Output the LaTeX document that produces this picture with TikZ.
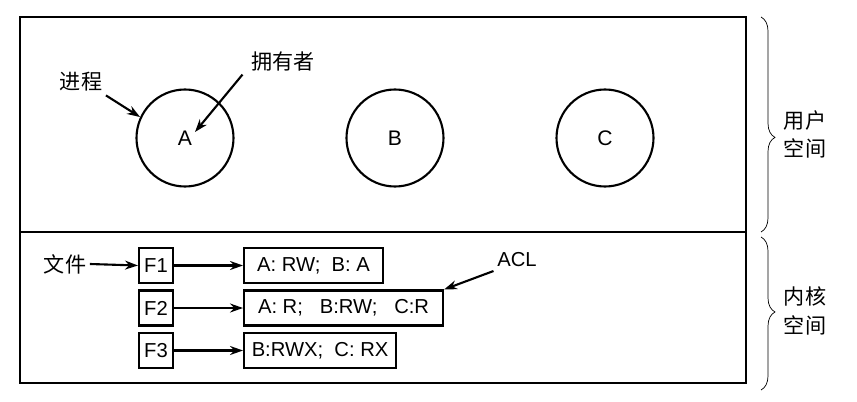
\documentclass[tikz,border=0pt]{standalone}
\usepackage{fontspec}
\setmainfont{Liberation Sans}
\newfontfamily\cjk{Noto Sans CJK SC}
\usetikzlibrary{arrows.meta,decorations.pathreplacing}

\begin{document}
\begin{tikzpicture}[x=0.2mm,y=-0.2mm,
    proc/.style={draw,line width=1.2pt,circle,minimum size=19.4mm,inner sep=0pt,font=\fontsize{12}{14}\selectfont},
    fbox/.style={draw,line width=1.2pt,minimum width=6.8mm,minimum height=7mm,inner sep=0pt,font=\fontsize{11.5}{13}\selectfont},
    aclbox/.style={draw,line width=1.2pt,anchor=west,minimum height=7mm,inner sep=0pt,font=\fontsize{11.5}{13}\selectfont},
    zh/.style={font=\cjk\fontsize{12}{16}\selectfont,inner sep=2pt},
    arr/.style={-{Stealth[length=2.6mm,width=1.8mm]},line width=1.2pt},
    kuohao/.style={decorate,decoration={brace,amplitude=2.8mm,aspect=#1}}]

    \useasboundingbox (0,0) rectangle (857,402);

    % 画外框
    \draw[line width=1.2pt] (20,17) rectangle (746,383);
    \draw[line width=1.2pt] (20,232) -- (746,232);

    % 进程
    \node[proc] (procA) at (185,138) {A};
    \node[proc] (procB) at (395,138) {B};
    \node[proc] (procC) at (605,138) {C};

    \node[zh] (jincheng) at (81,82) {进程};
    \node[zh] (yongyou) at (283,61) {拥有者};
    \coordinate (ownTip) at (195,132);
    \draw[arr] (jincheng.south east) -- (procA.155);
    \draw[arr] ([xshift=-1mm]yongyou.south west) -- (ownTip);

    % 文件和访问控制表
    \node[zh] (wenjian) at (65,264) {文件};
    \node[fbox] (f1) at (156,265.5) {F1};
    \node[fbox] (f2) at (156,308) {F2};
    \node[fbox] (f3) at (156,350.5) {F3};

    \node[aclbox,minimum width=27.8mm] (acl1) at (243,265.5) {A: RW;\ \ B: A};
    \node[aclbox,minimum width=39.8mm] (acl2) at (243,308) {A: R;\ \ \ B:RW;\ \ \ C:R};
    \node[aclbox,minimum width=30.4mm] (acl3) at (243,350.5) {B:RWX;\ \ C: RX};

    \draw[arr] (wenjian.east) -- (f1.west);
    \draw[arr] (f1.east) -- (acl1.west);
    \draw[arr] (f2.east) -- (acl2.west);
    \draw[arr] (f3.east) -- (acl3.west);

    \node[font=\fontsize{11.5}{13}\selectfont,inner sep=2pt] (acltxt) at (517,260) {ACL};
    \draw[arr] (acltxt.south west) -- (acl2.north east);

    % 右侧括号
    \draw[kuohao=0.56] (761,17) -- (761,232);
    \draw[kuohao=0.49] (761,237) -- (761,390);
    \node[zh,align=center] (userspace) at (805,134) {用户\\空间};
    \node[zh,align=center] (kernelspace) at (805,311) {内核\\空间};

\end{tikzpicture}
\end{document}
